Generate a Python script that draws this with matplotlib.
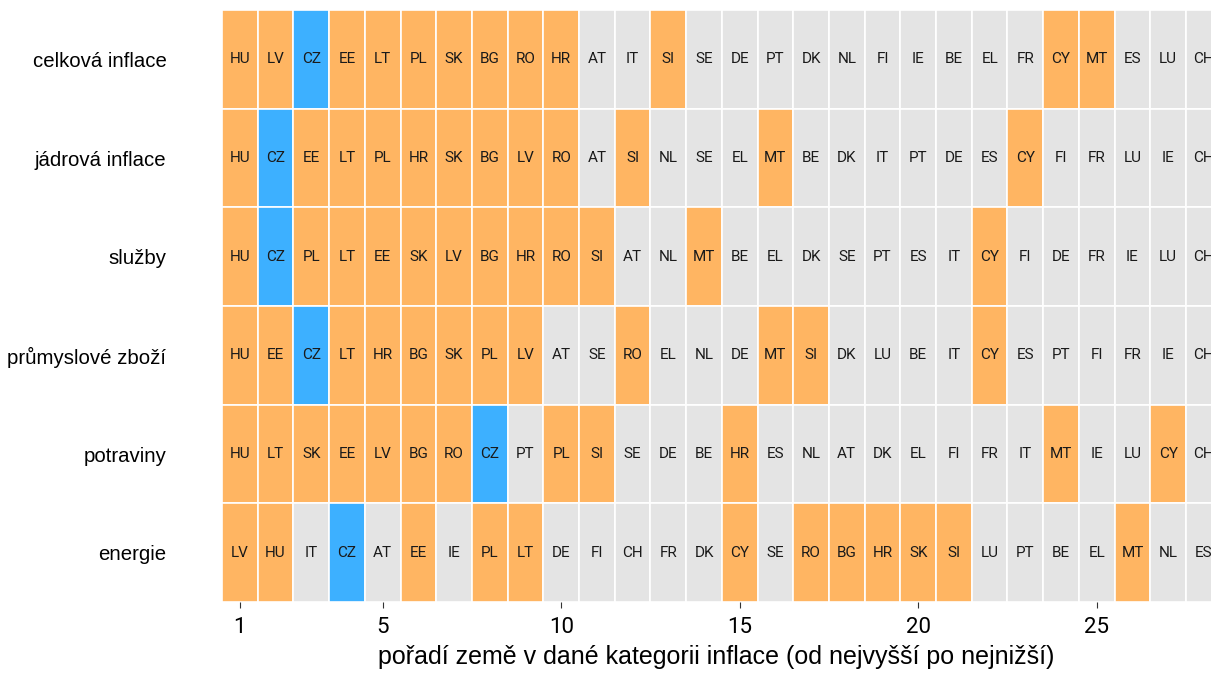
import numpy as np
import matplotlib.pyplot as plt

plt.rcParams['font.family'] = ['Liberation Sans', 'DejaVu Sans']

categories = ['celková inflace', 'jádrová inflace', 'služby',
              'průmyslové zboží', 'potraviny', 'energie']

celkova = ['HU', 'LV', 'CZ', 'EE', 'LT', 'PL', 'SK', 'BG', 'RO', 'HR', 'AT', 'IT', 'SI', 'SE',
           'DE', 'PT', 'DK', 'NL', 'FI', 'IE', 'BE', 'EL', 'FR', 'CY', 'MT', 'ES', 'LU', 'CH']
jadrova = ['HU', 'CZ', 'EE', 'LT', 'PL', 'HR', 'SK', 'BG', 'LV', 'RO', 'AT', 'SI', 'NL', 'SE',
           'EL', 'MT', 'BE', 'DK', 'IT', 'PT', 'DE', 'ES', 'CY', 'FI', 'FR', 'LU', 'IE', 'CH']
sluzby = ['HU', 'CZ', 'PL', 'LT', 'EE', 'SK', 'LV', 'BG', 'HR', 'RO', 'SI', 'AT', 'NL', 'MT',
          'BE', 'EL', 'DK', 'SE', 'PT', 'ES', 'IT', 'CY', 'FI', 'DE', 'FR', 'IE', 'LU', 'CH']
prumysl = ['HU', 'EE', 'CZ', 'LT', 'HR', 'BG', 'SK', 'PL', 'LV', 'AT', 'SE', 'RO', 'EL', 'NL',
           'DE', 'MT', 'SI', 'DK', 'LU', 'BE', 'IT', 'CY', 'ES', 'PT', 'FI', 'FR', 'IE', 'CH']
potraviny = ['HU', 'LT', 'SK', 'EE', 'LV', 'BG', 'RO', 'CZ', 'PT', 'PL', 'SI', 'SE', 'DE', 'BE',
             'HR', 'ES', 'NL', 'AT', 'DK', 'EL', 'FI', 'FR', 'IT', 'MT', 'IE', 'LU', 'CY', 'CH']
energie = ['LV', 'HU', 'IT', 'CZ', 'AT', 'EE', 'IE', 'PL', 'LT', 'DE', 'FI', 'CH', 'FR', 'DK',
           'CY', 'SE', 'RO', 'BG', 'HR', 'SK', 'SI', 'LU', 'PT', 'BE', 'EL', 'MT', 'NL', 'ES']

rows = [celkova, jadrova, sluzby, prumysl, potraviny, energie]

orange_group = ['HU', 'LV', 'EE', 'LT', 'PL', 'SK', 'BG', 'RO', 'HR', 'SI', 'CY', 'MT']
highlight = 'CZ'

c_orange = '#FFB562'
c_blue = '#3DB0FF'
c_gray = '#E4E4E4'


def tile_color(code):
    if code == highlight:
        return c_blue
    if code in orange_group:
        return c_orange
    return c_gray


fig = plt.figure(figsize=(12.11, 6.76), dpi=100)
ax = fig.add_axes([222 / 1211, 74 / 676, 1 - 222 / 1211, 592 / 676])

n_rows = len(rows)
for r, codes in enumerate(rows):
    y = n_rows - 1 - r
    ranks = np.arange(1, len(codes) + 1)
    ax.bar(ranks, 1, width=1, bottom=y - 0.5, color=[tile_color(c) for c in codes],
           edgecolor='white', linewidth=1.2)
    for x, c in zip(ranks, codes):
        ax.text(x, y, c, ha='center', va='center', fontsize=11, color='#1a1a1a',
                family=['Roboto', 'DejaVu Sans'], clip_on=True)

ax.set_xlim(0.5, 28.2)
ax.set_ylim(-0.5, n_rows - 0.5)
ax.set_yticks(np.arange(n_rows))
ax.set_yticklabels(categories[::-1], fontsize=14.7, color='black')
ax.tick_params(axis='y', length=0, pad=40)
ax.set_xticks([1, 5, 10, 15, 20, 25])
ax.set_xticklabels(['1', '5', '10', '15', '20', '25'], family=['Roboto', 'DejaVu Sans'])
ax.tick_params(axis='x', length=4, color='#333333', labelsize=16, pad=7, labelcolor='black')
ax.set_xlabel('pořadí země v dané kategorii inflace (od nejvyšší po nejnižší)',
              fontsize=18, labelpad=5)
for s in ax.spines.values():
    s.set_visible(False)

fig.savefig('out.png', dpi=100)
